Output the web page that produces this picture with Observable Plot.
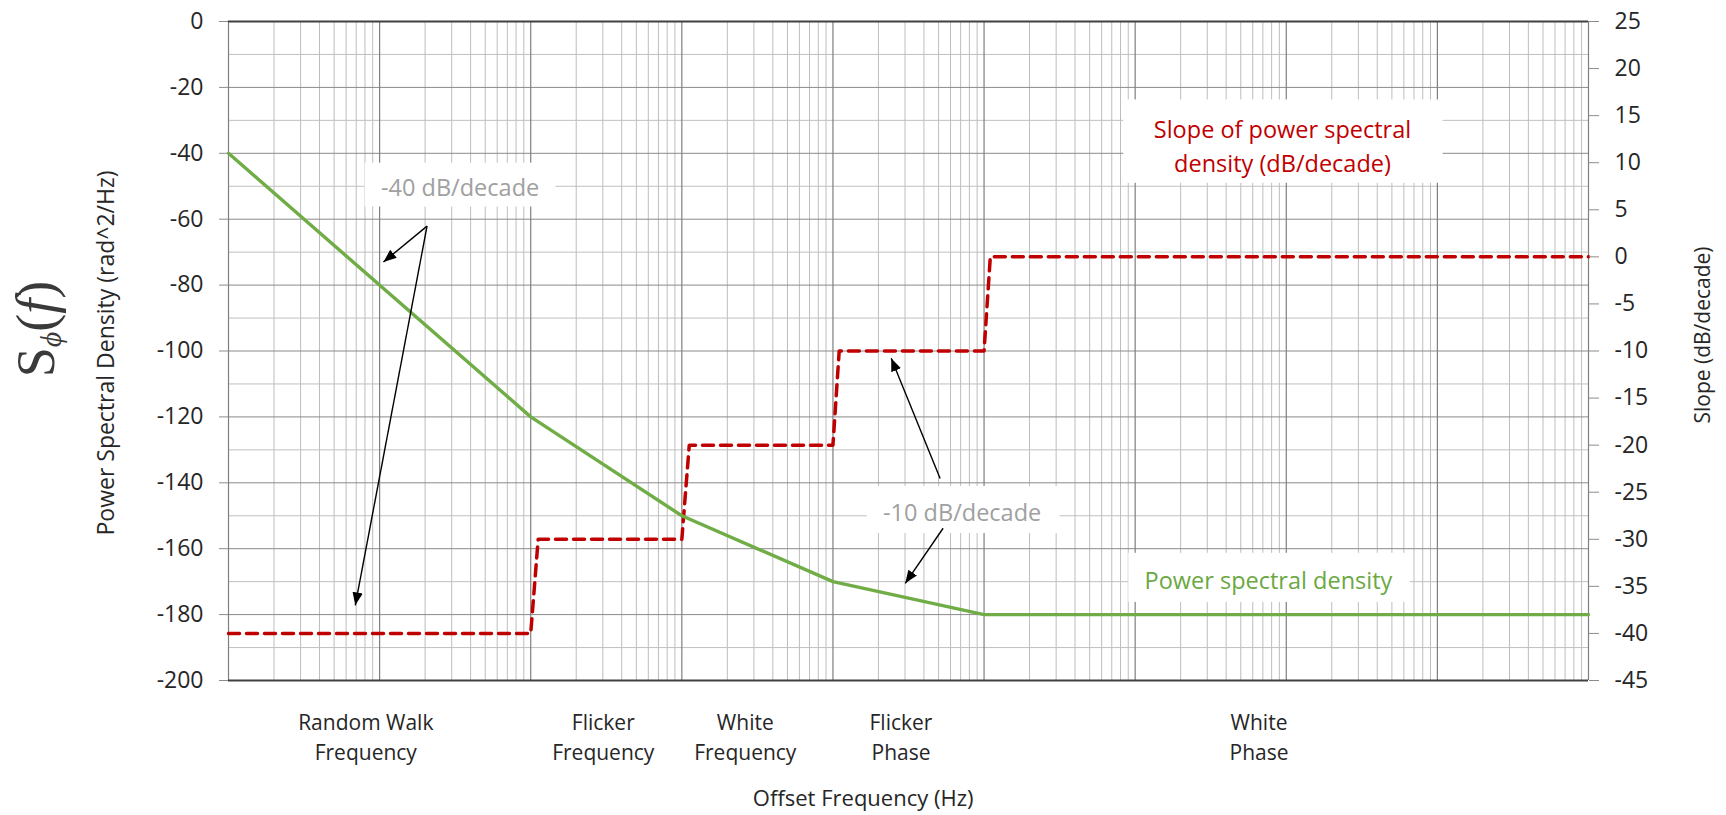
<!DOCTYPE html>
<html><head><meta charset="utf-8">
<script src="https://cdn.jsdelivr.net/npm/d3@7"></script>
<script src="https://cdn.jsdelivr.net/npm/@observablehq/plot@0.6"></script>
<style>body{margin:0;background:#fff}#chart svg{display:block}</style>
</head><body><div id="chart"></div>
<script>
// ---------- data ----------
const psdFreq = [1, 100, 1000, 1e4, 1e5, 1e9];
const psdDb   = [-40, -120, -150, -170, -180, -180];

const slopeFreq = [1, 100, 112, 1000, 1120, 1e4, 1.1e4, 1e5, 1.1e5, 1e9];
const slopeVal  = [-40, -40, -30, -30, -20, -20, -10, -10, 0, 0];

const leftTicks  = [0, -20, -40, -60, -80, -100, -120, -140, -160, -180, -200];
const rightTicks = [25, 20, 15, 10, 5, 0, -5, -10, -15, -20, -25, -30, -35, -40, -45];

const regionNames = ["Random Walk\nFrequency", "Flicker\nFrequency", "White\nFrequency", "Flicker\nPhase", "White\nPhase"];
const regionFreq  = [8.1, 302, 2630, 28200, 6.6e6];

const annoText  = ["-40 dB/decade", "-10 dB/decade", "Slope of power spectral\ndensity (dB/decade)", "Power spectral density"];
const annoFreq  = [34.1, 7.16e4, 9.44e6, 7.62e6];
const annoDb    = [-49.7, -148.4, -37.1, -169.0];
const annoColor = ["#a0a0a0", "#a0a0a0", "#c00000", "#6aa842"];
const boxFreq1  = [8.03, 1.687e4, 8.41e5, 9.08e5];
const boxFreq2  = [146.6, 3.18e5, 1.09e8, 6.61e7];
const boxDb1    = [-43.0, -141.1, -23.8, -161.4];
const boxDb2    = [-56.3, -155.4, -49.1, -176.3];

const arrowFreq1 = [20.6, 20.6, 5.12e4, 5.36e4];
const arrowDb1   = [-62.1, -62.1, -138.7, -153.8];
const arrowFreq2 = [10.6, 6.9, 2.43e4, 3.01e4];
const arrowDb2   = [-73.0, -177.2, -102.2, -170.5];

// ---------- helpers ----------
// right axis (slope, 25 .. -45) mapped onto left axis (0 .. -200)
const toLeft = v => (v - 25) * 200 / 70;
const fromLeft = y => y * 70 / 200 + 25;

const psd = psdFreq.map((f, i) => ({f, db: psdDb[i]}));
const slope = slopeFreq.map((f, i) => ({f, s: slopeVal[i]}));
const regions = regionNames.map((name, i) => ({name, f: regionFreq[i]}));
const annos = annoText.map((t, i) => ({t, f: annoFreq[i], db: annoDb[i], c: annoColor[i]}));
const boxes = boxFreq1.map((f1, i) => ({f1, f2: boxFreq2[i], y1: boxDb1[i], y2: boxDb2[i]}));
const arrows = arrowFreq1.map((f1, i) => ({f1, y1: arrowDb1[i], f2: arrowFreq2[i], y2: arrowDb2[i]}));

const majorX = d3.range(0, 10).map(k => Math.pow(10, k));
const minorX = [];
for (let k = 0; k < 9; k++) for (let m = 2; m <= 9; m++) minorX.push(m * Math.pow(10, k));
const minorY = d3.range(-10, -200, -20);
const majorY = d3.range(-20, -200, -20);

function filledArrow(color, context) {
  const doc = (context && context.document) || document;
  const ns = "http://www.w3.org/2000/svg";
  const m = doc.createElementNS(ns, "marker");
  m.setAttribute("viewBox", "-10 -5 10 10");
  m.setAttribute("markerWidth", 13);
  m.setAttribute("markerHeight", 13);
  m.setAttribute("markerUnits", "userSpaceOnUse");
  m.setAttribute("orient", "auto");
  m.setAttribute("refX", 0);
  m.setAttribute("refY", 0);
  const p = doc.createElementNS(ns, "path");
  p.setAttribute("d", "M-10,-4L0,0L-10,4Z");
  p.setAttribute("fill", color);
  p.setAttribute("stroke", "none");
  m.appendChild(p);
  return m;
}

const font = "'Open Sans', sans-serif";

const chart = Plot.plot({
  width: 1726, height: 815,
  marginLeft: 228, marginRight: 138, marginTop: 21, marginBottom: 135,
  x: {type: "log", domain: [1, 1e9], axis: null},
  y: {domain: [-200, 0], axis: null},
  style: {fontFamily: font, background: "#fff", color: "#262626"},
  marks: [
    Plot.ruleX(minorX, {stroke: "#bdbdbd", strokeWidth: 1}),
    Plot.ruleY(minorY, {stroke: "#c0c0c0", strokeWidth: 1}),
    Plot.ruleY(majorY, {stroke: "#8a8a8a", strokeWidth: 1}),
    Plot.ruleX(majorX, {stroke: "#7f7f7f", strokeWidth: 1.2}),
    Plot.ruleY([0, -200], {stroke: "#404040", strokeWidth: 2}),
    // annotation boxes
    Plot.rect(boxes, {x1: "f1", x2: "f2", y1: "y1", y2: "y2", fill: "#fff"}),
    // series
    Plot.line(slope, {x: "f", y: d => toLeft(d.s), stroke: "#c00000", strokeWidth: 3.5, strokeDasharray: "11,7"}),
    Plot.line(psd, {x: "f", y: "db", stroke: "#70ad47", strokeWidth: 3.4}),
    // axes
    Plot.axisY(leftTicks, {anchor: "left", tickSize: 9, tickPadding: 16, tickFormat: d => String(d),
      fontSize: 23, stroke: "#8c8c8c", fill: "#262626"}),
    Plot.axisY(rightTicks.map(toLeft), {anchor: "right", tickSize: 10, tickPadding: 16,
      tickFormat: d => String(Math.round(fromLeft(d))), fontSize: 23, stroke: "#8c8c8c", fill: "#262626"}),
    Plot.text(regions, {x: "f", text: "name", frameAnchor: "bottom", dy: 55, lineAnchor: "middle",
      lineHeight: 1.4, fontSize: 21, fill: "#262626"}),
    Plot.text(["Offset Frequency (Hz)"], {x: () => 10 ** 4.2, frameAnchor: "bottom", dy: 118, lineAnchor: "middle",
      fontSize: 22, fill: "#262626"}),
    Plot.text(["Power Spectral Density (rad^2/Hz)"], {frameAnchor: "left", textAnchor: "middle", dx: -122, dy: 2,
      rotate: -90, fontSize: 23, fill: "#262626"}),
    Plot.text(["Slope (dB/decade)"], {frameAnchor: "right", textAnchor: "middle", dx: 115, dy: -16,
      rotate: -90, fontSize: 21, fill: "#262626"}),
    Plot.text(["Sϕ(f)"], {frameAnchor: "left", textAnchor: "middle", dx: -192, dy: -22, rotate: -90, fontSize: 54,
      fontFamily: "'Liberation Serif', serif", fill: "#3a3a3a"}),
    // annotations
    Plot.text(annos, {x: "f", y: "db", text: "t", fill: "c", fontSize: 23.5, lineHeight: 1.45}),
    Plot.link(arrows, {x1: "f1", y1: "y1", x2: "f2", y2: "y2", stroke: "#000", strokeWidth: 1.4, markerEnd: filledArrow})
  ]
});

// rich formatting for the math symbol label
d3.select(chart).selectAll("text").filter(function() { return this.textContent === "Sϕ(f)"; })
  .each(function() {
    const t = d3.select(this);
    t.text(null);
    t.append("tspan").text("S");
    t.append("tspan").attr("font-style", "italic").attr("font-size", "0.55em").attr("dy", "0.25em").text("ϕ");
    t.append("tspan").attr("dy", "-0.14em").text("(");
    t.append("tspan").attr("font-style", "italic").text("f");
    t.append("tspan").text(")");
  });

document.getElementById("chart").appendChild(chart);
</script>
</body></html>
